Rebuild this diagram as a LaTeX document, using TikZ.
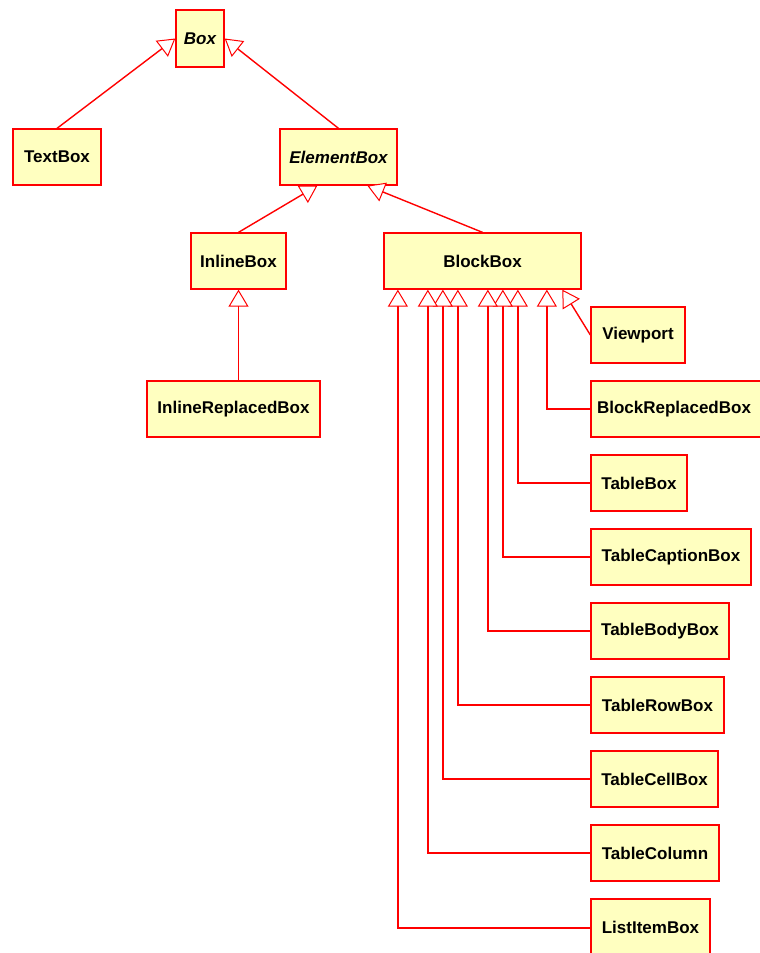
\documentclass[tikz,border=0pt]{standalone}
\usepackage{fontspec}
\setmainfont{Liberation Sans}
\usetikzlibrary{arrows.meta}
\definecolor{boxfill}{RGB}{255,255,192}
\begin{document}
\begin{tikzpicture}[x=1pt,y=-1pt,
  cls/.style={draw=red, line width=1.3pt, fill=boxfill, inner sep=0pt, font=\fontsize{17}{20}\selectfont\bfseries},
  inh/.style={color=red, line width=1.4pt, -{Triangle[open, length=17pt, width=20pt, fill=white, line width=1pt]}}]
\useasboundingbox (0,0) rectangle (760,953);
\clip (0,0) rectangle (760,953);
\fill[white] (0,0) rectangle (760,953);
% nodes (center, width, height)
\node[cls, minimum width=48, minimum height=57, font=\fontsize{17}{20}\selectfont\bfseries\itshape] (box) at (200,38.5) {Box};
\node[cls, minimum width=88, minimum height=56] (tb) at (57,157) {TextBox};
\node[cls, minimum width=117, minimum height=56, font=\fontsize{17}{20}\selectfont\bfseries\itshape] (eb) at (338.5,157) {ElementBox};
\node[cls, minimum width=95, minimum height=56] (ib) at (238.5,261) {InlineBox};
\node[cls, minimum width=197, minimum height=56] (bb) at (482.5,261) {BlockBox};
\node[cls, minimum width=173, minimum height=56] (irb) at (233.5,409) {InlineReplacedBox};
\node[cls, minimum width=94, minimum height=56] (vp) at (638,335) {Viewport};
\node[cls, minimum width=182, minimum height=56, text width=170, align=left] (brb) at (682,409) {BlockReplacedBox};
\node[cls, minimum width=96, minimum height=56] (tbx) at (639,483) {TableBox};
\node[cls, minimum width=160, minimum height=56] (tcb) at (671,557) {TableCaptionBox};
\node[cls, minimum width=138, minimum height=56] (tbb) at (660,631) {TableBodyBox};
\node[cls, minimum width=133, minimum height=56] (trb) at (657.5,705) {TableRowBox};
\node[cls, minimum width=127, minimum height=56] (tcl) at (654.5,779) {TableCellBox};
\node[cls, minimum width=128, minimum height=56] (tco) at (655,853) {TableColumn};
\node[cls, minimum width=119, minimum height=58] (lib) at (650.5,928) {};
\node[font=\fontsize{17}{20}\selectfont\bfseries] (libt) at (650.5,927) {ListItemBox};
% connectors
\draw[inh] (tb.north) -- (box.west);
\draw[inh] (eb.north) -- (box.east);
\draw[inh] (ib.north) -- ([xshift=38]eb.south west);
\draw[inh] (bb.north) -- ([xshift=88]eb.south west);
\draw[inh] (irb.north -| ib.south) -- (ib.south);
\draw[inh] (vp.west) -- ([xshift=179]bb.south west);
\draw[inh] (brb.west) -| ([xshift=163.5]bb.south west);
\draw[inh] (tbx.west) -| ([xshift=134.5]bb.south west);
\draw[inh] (tcb.west) -| ([xshift=119.5]bb.south west);
\draw[inh] (tbb.west) -| ([xshift=104.5]bb.south west);
\draw[inh] (trb.west) -| ([xshift=74.5]bb.south west);
\draw[inh] (tcl.west) -| ([xshift=59.5]bb.south west);
\draw[inh] (tco.west) -| ([xshift=44.5]bb.south west);
\draw[inh] (lib.west) -| ([xshift=14.5]bb.south west);
\end{tikzpicture}
\end{document}
